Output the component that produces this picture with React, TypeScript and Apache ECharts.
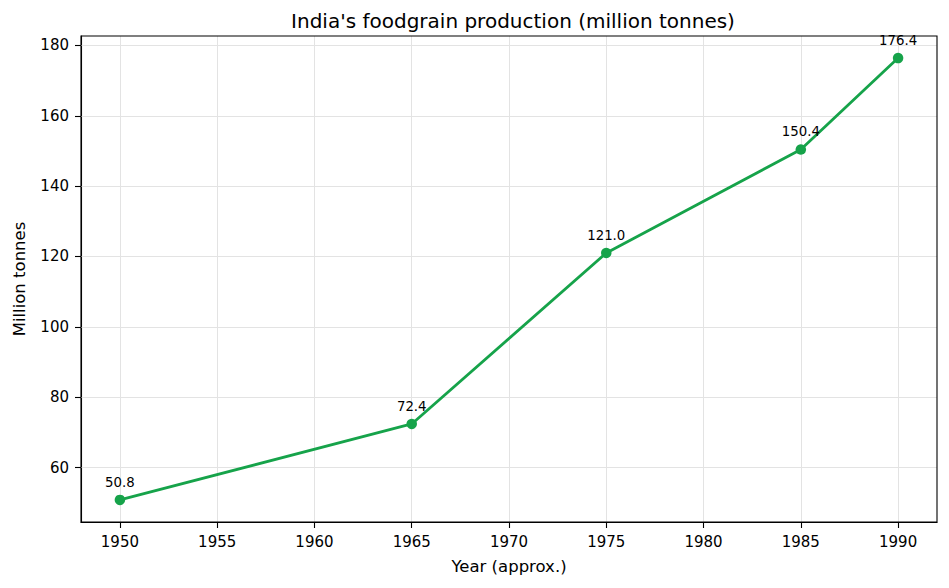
import React, { useEffect, useRef } from "react";
import * as echarts from "echarts";

const years = [1950, 1965, 1975, 1985, 1990];
const production = [50.8, 72.4, 121.0, 150.4, 176.4];
const xTicks = [1950, 1955, 1960, 1965, 1970, 1975, 1980, 1985, 1990];
const yTicks = [60, 80, 100, 120, 140, 160, 180];

const FONT = "DejaVu Sans";

export default function App() {
  const ref = useRef<HTMLDivElement>(null);
  useEffect(() => {
    if (!ref.current) return;
    const chart = echarts.init(ref.current, null, { renderer: "svg" });
    const gridLines = [
      ...xTicks.map((v) => ({ xAxis: v })),
      ...yTicks.map((v) => ({ yAxis: v })),
    ];
    chart.setOption({
      animation: false,
      backgroundColor: "#ffffff",
      textStyle: { fontFamily: FONT },
      title: {
        text: "India's foodgrain production (million tonnes)",
        left: 508,
        top: 6,
        textAlign: "center",
        textStyle: { fontFamily: FONT, fontSize: 20, fontWeight: "normal", color: "#000" },
      },
      grid: {
        left: 81,
        right: 12,
        top: 36,
        bottom: 66,
        show: true,
        borderColor: "#000",
        borderWidth: 1.1,
        backgroundColor: "transparent",
        z: 4,
      },
      xAxis: {
        type: "value",
        min: 1948,
        max: 1992,
        name: "Year (approx.)",
        nameLocation: "middle",
        nameGap: 36,
        nameTextStyle: { fontFamily: FONT, fontSize: 16.5, color: "#000" },
        axisLine: { show: true, lineStyle: { color: "#000", width: 1.1 } },
        axisTick: { show: true, length: 6, lineStyle: { color: "#000", width: 1.1 }, customValues: xTicks },
        axisLabel: {
          customValues: xTicks,
          color: "#000",
          fontFamily: FONT,
          fontSize: 15,
          margin: 12,
          formatter: (v: number) => String(v),
        },
        splitLine: { show: false },
      },
      yAxis: {
        type: "value",
        min: 44.52,
        max: 182.68,
        name: "Million tonnes",
        nameLocation: "middle",
        nameGap: 53,
        nameRotate: 90,
        nameTextStyle: { fontFamily: FONT, fontSize: 16.5, color: "#000" },
        axisLine: { show: true, lineStyle: { color: "#000", width: 1.1 } },
        axisTick: { show: true, length: 6, lineStyle: { color: "#000", width: 1.1 }, customValues: yTicks },
        axisLabel: {
          customValues: yTicks,
          color: "#000",
          fontFamily: FONT,
          fontSize: 15,
          margin: 12,
          formatter: (v: number) => String(v),
        },
        splitLine: { show: false },
      },
      series: [
        {
          type: "line",
          data: [],
          z: 1,
          silent: true,
          markLine: {
            silent: true,
            z: 1,
            symbol: "none",
            label: { show: false },
            emphasis: { disabled: true },
            lineStyle: { color: "#e3e3e3", width: 1, type: "solid" },
            data: gridLines,
          },
        },
        {
          type: "line",
          z: 3,
          data: years.map((y, i) => [y, production[i]]),
          symbol: "circle",
          symbolSize: 10.5,
          itemStyle: { color: "#16a34a" },
          lineStyle: { color: "#16a34a", width: 2.8 },
          label: {
            show: true,
            position: "top",
            distance: 6,
            color: "#000",
            fontFamily: FONT,
            fontSize: 13.3,
            formatter: (p: any) => p.value[1].toFixed(1),
          },
        },
      ],
    });
    return () => chart.dispose();
  }, []);
  return <div ref={ref} style={{ width: 949, height: 588, margin: -8 }} />;
}
